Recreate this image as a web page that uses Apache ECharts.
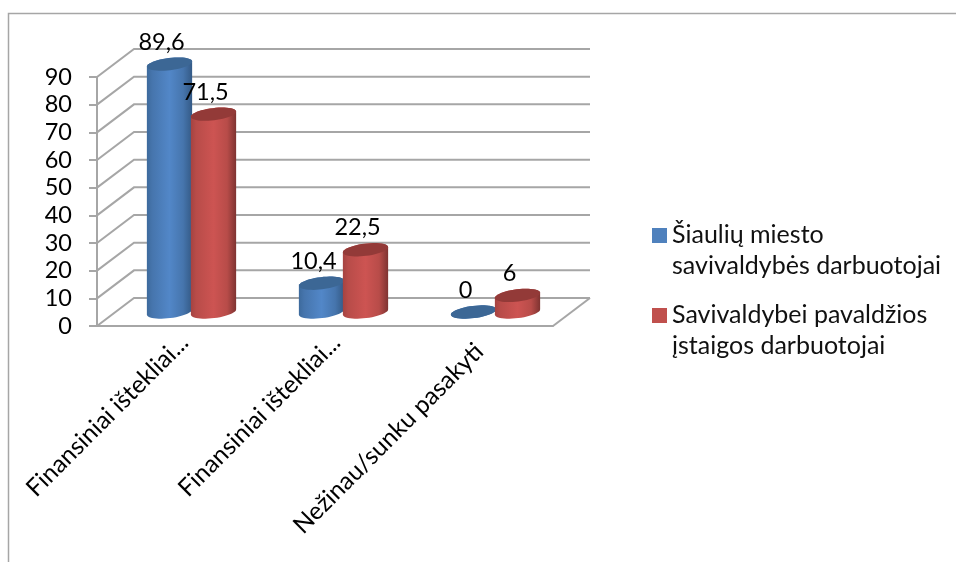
<!DOCTYPE html>
<html>
<head>
<meta charset="utf-8">
<style>html,body{margin:0;padding:0;background:#fff}#chart{width:956px;height:562px}</style>
<script src="https://cdn.jsdelivr.net/npm/echarts@6/dist/echarts.min.js"></script>
</head>
<body>
<div id="chart"></div>
<script>
// Chart data
const categories = ['Finansiniai ištekliai...', 'Finansiniai ištekliai...', 'Nežinau/sunku pasakyti'];
const cityStaff = [89.6, 10.4, 0];
const subordinateStaff = [71.5, 22.5, 6];
const seriesNames = ['Šiaulių miesto\nsavivaldybės darbuotojai', 'Savivaldybei pavaldžios\nįstaigos darbuotojai'];
const yTicks = [0, 10, 20, 30, 40, 50, 60, 70, 80, 90];

// Pseudo-3D projection settings
const DEPTH_X = 37, DEPTH_Y = 28;
const GRID_COLOR = '#a6a6a6';
const FONT_FAMILY = 'Lato, "Open Sans", sans-serif';
const TILT = -7 * Math.PI / 180;
const RX = 22.8, RY = 6.1;

function ellipseArc(cx, cy, from, to, steps) {
  const pts = [];
  for (let i = 0; i <= steps; i++) {
    const t = from + (to - from) * i / steps;
    pts.push([
      cx + RX * Math.cos(t) * Math.cos(TILT) - RY * Math.sin(t) * Math.sin(TILT),
      cy + RX * Math.cos(t) * Math.sin(TILT) + RY * Math.sin(t) * Math.cos(TILT)
    ]);
  }
  return pts;
}

// Back wall, floor edges and the diagonal links from the front axis
function renderWall(params, api) {
  const cs = params.coordSys;
  const p = api.coord([0, api.value(1)]);
  const y = p[1], xl = cs.x, xr = cs.x + cs.width;
  const line = { stroke: GRID_COLOR, lineWidth: 2, fill: null };
  const children = [
    { type: 'polyline', shape: { points: [[xl, y], [xl + DEPTH_X, y - DEPTH_Y], [xr + DEPTH_X, y - DEPTH_Y]] }, style: line }
  ];
  if (api.value(1) === 0) {
    children.push({ type: 'line', shape: { x1: xr, y1: y, x2: xr + DEPTH_X, y2: y - DEPTH_Y }, style: line });
  }
  return { type: 'group', silent: true, children };
}

// One cylinder per data point, standing halfway into the floor depth
function cylinderRenderer(side, colors) {
  return function (params, api) {
    const base = api.coord([api.value(0), 0]);
    const top = api.coord([api.value(0), api.value(1)]);
    const cx = base[0] + DEPTH_X / 2 + side * 22;
    const yBase = base[1] - DEPTH_Y / 2;
    const yTop = top[1] - DEPTH_Y / 2;
    const body = ellipseArc(cx, yBase, 0, Math.PI, 24).concat(ellipseArc(cx, yTop, Math.PI, 2 * Math.PI, 24));
    const text = String(api.value(1)).replace('.', ',');
    return {
      type: 'group',
      children: [
        {
          type: 'polygon', shape: { points: body },
          style: {
            fill: new echarts.graphic.LinearGradient(0, 0, 1, 0, [
              { offset: 0, color: colors.edge },
              { offset: 0.12, color: colors.mid },
              { offset: 0.5, color: colors.light },
              { offset: 0.8, color: colors.mid },
              { offset: 1, color: colors.shade }
            ])
          }
        },
        { type: 'polygon', shape: { points: ellipseArc(cx, yTop, 0, 2 * Math.PI, 48) }, style: { fill: colors.cap } },
        {
          type: 'text', z2: 10,
          style: { text, x: cx - 8, y: yTop - 22, font: '23.5px ' + FONT_FAMILY, fill: '#000', align: 'center', verticalAlign: 'middle' }
        }
      ]
    };
  };
}

const BLUE = { edge: '#3d6a9c', mid: '#4675ad', light: '#5287c8', shade: '#345a86', cap: '#3c6795' };
const RED = { edge: '#a54341', mid: '#b84c49', light: '#cd5452', shade: '#7f3331', cap: '#933a38' };

// Legend swatch sits level with the first text line of its two-line entry
const SWATCH = 'path://M0 0H15V15H0ZM0 44H0V44Z';

const chart = echarts.init(document.getElementById('chart'), null, { renderer: 'canvas' });
chart.setOption({
  animation: false,
  backgroundColor: '#fff',
  grid: { left: 97, top: 77, width: 456, height: 249, containLabel: false },
  xAxis: {
    type: 'category',
    data: categories,
    axisLine: { lineStyle: { color: GRID_COLOR, width: 2 } },
    axisTick: { alignWithLabel: false, length: 8, lineStyle: { color: GRID_COLOR, width: 2 } },
    axisLabel: {
      interval: 0, rotate: 45, margin: 24, color: '#000',
      fontFamily: FONT_FAMILY, fontSize: 24.5,
      padding: [0, -16, 0, 0],
      // the last label sits a little further down its diagonal
      formatter: (value, index) => index === 2 ? value + '\u00a0\u00a0' : value
    },
    splitLine: { show: false }
  },
  yAxis: {
    type: 'value', min: 0, max: 90, interval: 10,
    axisLine: { show: true, lineStyle: { color: GRID_COLOR, width: 2 } },
    axisTick: { show: true, length: 8, lineStyle: { color: GRID_COLOR, width: 2 } },
    axisLabel: { margin: 25, color: '#000', fontFamily: FONT_FAMILY, fontSize: 23.5 },
    splitLine: { show: false }
  },
  legend: {
    orient: 'vertical', left: 652, top: 219, itemGap: 18, padding: 0,
    itemWidth: 15, itemHeight: 44, icon: SWATCH,
    data: seriesNames,
    textStyle: { color: '#111', fontFamily: FONT_FAMILY, fontSize: 25, lineHeight: 31 },
    itemStyle: { borderWidth: 0 },
    selectedMode: false
  },
  graphic: [{
    type: 'polyline', silent: true,
    shape: { points: [[8.5, 562], [8.5, 13.5], [956, 13.5]] },
    style: { stroke: '#a6a6a6', lineWidth: 1.5, fill: null }
  }],
  series: [
    {
      type: 'custom', name: 'wall', z: 1, silent: true,
      renderItem: renderWall,
      encode: { x: 0, y: 1 },
      data: yTicks.map(v => [0, v])
    },
    {
      type: 'custom', name: seriesNames[0], z: 3,
      itemStyle: { color: '#4f81bd' },
      renderItem: cylinderRenderer(-1, BLUE),
      encode: { x: 0, y: 1 },
      data: cityStaff.map((v, i) => [i, v])
    },
    {
      type: 'custom', name: seriesNames[1], z: 4,
      itemStyle: { color: '#c0504d' },
      renderItem: cylinderRenderer(1, RED),
      encode: { x: 0, y: 1 },
      data: subordinateStaff.map((v, i) => [i, v])
    }
  ]
});
</script>
</body>
</html>
